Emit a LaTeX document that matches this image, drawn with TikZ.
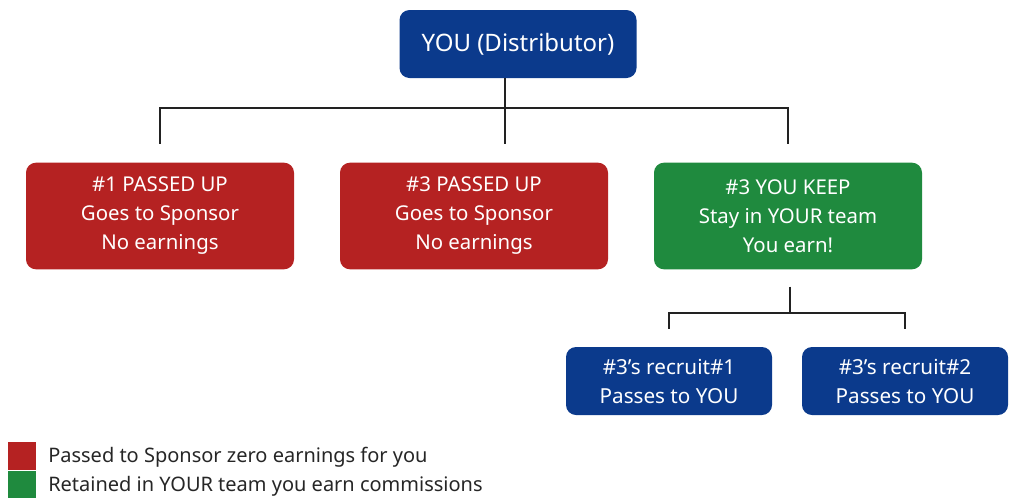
\documentclass[tikz,border=0pt]{standalone}
\usepackage{fontspec}
\setmainfont{Noto Sans}
\usepackage{xcolor}
\usepackage{tikz}
\usetikzlibrary{positioning,calc}
\definecolor{mlmNavy}{HTML}{0B3A8C}
\definecolor{mlmRed}{HTML}{B52222}
\definecolor{mlmGreen}{HTML}{1F8A3E}
\definecolor{mlmLine}{HTML}{222222}
\tikzset{
  rootbox/.style={rectangle, rounded corners=7.5pt, fill=mlmNavy, text=white, align=center, minimum width=177.75pt, minimum height=51pt, font=\fontsize{18}{21}\selectfont},
  passbox/.style={rectangle, rounded corners=7.5pt, fill=mlmRed, text=white, align=center, minimum width=201pt, minimum height=80pt, font=\fontsize{15.3}{21.75}\selectfont},
  keepbox/.style={passbox, fill=mlmGreen},
  recruitbox/.style={rectangle, rounded corners=7.5pt, fill=mlmNavy, text=white, align=center, minimum width=154.5pt, minimum height=51pt, font=\fontsize{15.5}{21.75}\selectfont},
  swatch/.style={rectangle, minimum size=21pt, inner sep=0pt},
  legend/.style={anchor=west, inner sep=0pt, font=\fontsize{15}{17}\selectfont, text=black!85},
  link/.style={draw=mlmLine, line width=1.4pt}
}

\begin{document}
\begin{tikzpicture}[x=0.75pt, y=-0.75pt]
\useasboundingbox (0,0) rectangle (1011,497);
\node[rootbox] (root) at (518,44) {YOU (Distributor)};
\node[passbox] (up1) at (160,216) {\#1 PASSED UP\\Goes to Sponsor\\No earnings};
\node[passbox] (up3) at (474,216) {\#3 PASSED UP\\Goes to Sponsor\\No earnings};
\node[keepbox] (keep) at (788,216) {\#3 YOU KEEP\\Stay in YOUR team\\You earn!};
\node[recruitbox] (rec1) at (669,381) {\#3’s recruit\#1\\Passes to YOU};
\node[recruitbox] (rec2) at (905,381) {\#3’s recruit\#2\\Passes to YOU};
\coordinate (hub) at (505,108);
\coordinate (split) at (790,313);
\draw[link] (root.south -| hub) -- (hub);
\draw[link, shorten >=13.5pt] (hub) -| (up1.north);
\draw[link, shorten >=13.5pt] (hub) -- (hub |- up3.north);
\draw[link, shorten >=13.5pt] (hub) -| (keep.north);
\draw[link, shorten <=12.75pt] (keep.south -| split) -- (split);
\draw[link, shorten >=13.5pt] (split) -| (rec1.north);
\draw[link, shorten >=13.5pt] (split) -| (rec2.north);
\node[swatch, fill=mlmRed] (redkey) at (22,456) {};
\node[swatch, fill=mlmGreen] (greenkey) at (22,485) {};
\node[legend] (redtext) at (48,457) {Passed to Sponsor zero earnings for you};
\node[legend] (greentext) at (48,486) {Retained in YOUR team you earn commissions};
\end{tikzpicture}
\end{document}
